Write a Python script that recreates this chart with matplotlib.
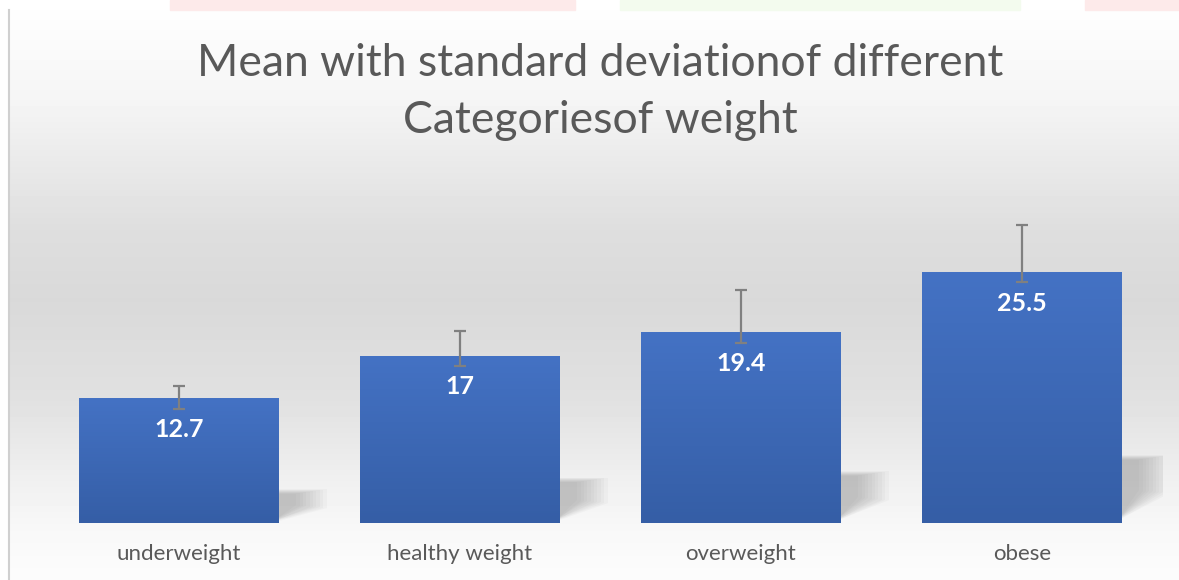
import matplotlib.pyplot as plt
import numpy as np
from matplotlib.colors import LinearSegmentedColormap
from matplotlib.patches import Polygon, Rectangle

categories = ['underweight', 'healthy weight', 'overweight', 'obese']
means = [12.7, 17, 19.4, 25.5]
err_low = [1.1, 1.05, 1.1, 1.05]
err_high = [1.2, 2.5, 4.3, 4.8]
value_labels = ['12.7', '17', '19.4', '25.5']

plt.rcParams['font.family'] = ['Lato', 'DejaVu Sans']

W, H = 1179, 580
fig = plt.figure(figsize=(W / 100, H / 100), dpi=100)
fig.patch.set_facecolor('white')

# faint colourful strip above the chart frame (from the page behind)
for x0, x1, col in [(170, 575, '#fdeaea'), (620, 1020, '#f3fbee'), (1085, 1179, '#fdeaea')]:
    fig.patches.append(Rectangle((x0 / W, 1 - 10 / H), (x1 - x0) / W, 10 / H,
                                 transform=fig.transFigure, color=col, zorder=0))

# background gradient of the chart area
bg = fig.add_axes([9 / W, 0, 1 - 9 / W, 1 - 10 / H], zorder=0)
ys = np.array([0, 90, 140, 220, 290, 390, 470, 520, 570])
gs = np.array([254, 245, 236, 222, 217, 225, 240, 248, 252]) / 255
grad = np.interp(np.arange(570), ys, gs)[:, None]
bg.imshow(np.repeat(grad, 2, axis=1), cmap='gray', vmin=0, vmax=1,
          aspect='auto', extent=[0, 1, 0, 1], origin='upper')
bg.set_xticks([])
bg.set_yticks([])
for s in ['top', 'right', 'bottom']:
    bg.spines[s].set_visible(False)
bg.spines['left'].set_color('#d0d0d0')
bg.spines['left'].set_linewidth(1.5)

# main axes
ax = fig.add_axes([38.5 / W, 57 / H, 1124 / W, 344.4 / H], zorder=1)
ax.patch.set_alpha(0)
x = np.arange(len(categories))
bars = ax.bar(x, means, width=0.71, color='#4472c4', zorder=2)

bar_cmap = LinearSegmentedColormap.from_list('b', ['#355ea6', '#4472c4'])
for b in bars:
    bx, by = b.get_x(), b.get_y()
    bw, bh = b.get_width(), b.get_height()
    im = ax.imshow(np.linspace(0, 1, 100)[:, None], cmap=bar_cmap, origin='lower',
                   extent=[bx, bx + bw, by, by + bh], aspect='auto', zorder=2.1)
    im.set_clip_path(b)
    # soft shadow to the right of the bar
    r = bx + bw
    for k in range(10):
        d = k * 0.01
        poly = Polygon([(r, 0.02 * bh + d * 4), (r, 0.27 * bh - d * 5),
                        (r + 0.17 - d * 1.2, 0.27 * bh - d * 5),
                        (r + 0.17 - d * 1.2, 0.12 * bh + d * 3)],
                       closed=True, color='#707070', alpha=0.045, lw=0, zorder=1.5)
        ax.add_patch(poly)

ax.errorbar(x, means, yerr=[err_low, err_high], fmt='none', ecolor='#808080',
            elinewidth=1.6, capsize=4.3, capthick=1.6, zorder=3)

for xi, m, lab in zip(x, means, value_labels):
    ax.annotate(lab, (xi, m), xytext=(0, -22.5), textcoords='offset points',
                ha='center', va='center', color='white', fontsize=18,
                fontweight='bold', zorder=4)

ax.set_xlim(-0.5, 3.5)
ax.set_ylim(0, 35)
ax.set_yticks([])
ax.set_xticks(x)
ax.set_xticklabels(categories, fontsize=16, color='#595959')
ax.tick_params(axis='x', length=0, pad=15)
for s in ax.spines.values():
    s.set_visible(False)

fig.text(600 / W, 1 - 92 / H, 'Mean with standard deviationof different\nCategoriesof weight',
         ha='center', va='center', fontsize=32, color='#595959',
         linespacing=1.47)

fig.savefig('out.png', dpi=100)
